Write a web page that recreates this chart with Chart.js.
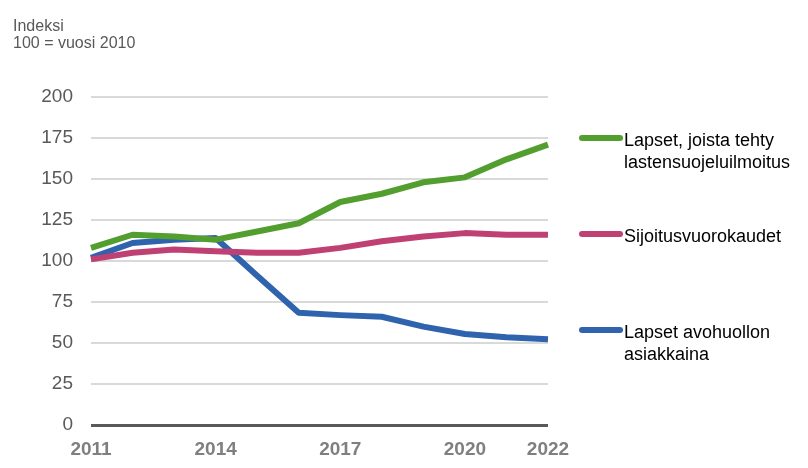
<!DOCTYPE html>
<html>
<head>
<meta charset="utf-8">
<script src="https://cdn.jsdelivr.net/npm/chart.js@4/dist/chart.umd.min.js"></script>
<style>
  html, body { margin: 0; padding: 0; background: #ffffff; }
  #wrap { position: relative; width: 808px; height: 468px; }
</style>
</head>
<body>
<div id="wrap"><canvas id="c" width="808" height="468"></canvas></div>
<script>
const years = ["2011","2012","2013","2014","2015","2016","2017","2018","2019","2020","2021","2022"];
const shownYears = ["2011","2014","2017","2020","2022"];
const yTicks = [0, 25, 50, 75, 100, 125, 150, 175, 200];
const titleLines = ["Indeksi", "100 = vuosi 2010"];

const seriesNames = [
  ["Lapset, joista tehty", "lastensuojeluilmoitus"],
  ["Sijoitusvuorokaudet"],
  ["Lapset avohuollon", "asiakkaina"]
];
const ilmoitus = [108, 116, 115, 113, 118, 123, 136, 141, 148, 151, 162, 171];
const sijoitus = [101, 105, 107, 106, 105, 105, 108, 112, 115, 117, 116, 116];
const avohuolto = [102, 111, 113, 114, 91, 68.5, 67, 66, 60, 55.5, 53.5, 52.3];
const seriesColors = ["#529e2e", "#bf4073", "#2f63ae"];
const legendY = [138, 234, 330];

const FONT = '"Liberation Sans", Arial, sans-serif';

const overlay = {
  id: 'overlay',
  afterDraw(chart) {
    const ctx = chart.ctx;
    ctx.save();
    ctx.fillStyle = '#595959';
    ctx.font = '16px ' + FONT;
    ctx.textBaseline = 'alphabetic';
    ctx.textAlign = 'left';
    titleLines.forEach((t, i) => ctx.fillText(t, 13, 31 + i * 17));
    // legend
    seriesNames.forEach((lines, i) => {
      ctx.strokeStyle = seriesColors[i];
      ctx.lineWidth = 6;
      ctx.lineCap = 'round';
      ctx.beginPath();
      ctx.moveTo(582, legendY[i]);
      ctx.lineTo(620, legendY[i]);
      ctx.stroke();
      ctx.fillStyle = '#000000';
      ctx.font = '18px ' + FONT;
      ctx.textBaseline = 'alphabetic';
      lines.forEach((t, j) => ctx.fillText(t, 624, legendY[i] + 8 + j * 22));
    });
    ctx.restore();
  }
};

new Chart(document.getElementById('c'), {
  type: 'line',
  data: {
    labels: years,
    datasets: [
      { label: seriesNames[0].join(' '), data: ilmoitus, borderColor: seriesColors[0] },
      { label: seriesNames[1].join(' '), data: sijoitus, borderColor: seriesColors[1] },
      { label: seriesNames[2].join(' '), data: avohuolto, borderColor: seriesColors[2] }
    ]
  },
  options: {
    responsive: false,
    animation: false,
    layout: { padding: { left: 0, right: 260, top: 97, bottom: 0 } },
    elements: {
      line: { borderWidth: 6, tension: 0, borderJoinStyle: 'round', borderCapStyle: 'butt' },
      point: { radius: 0, hoverRadius: 0 }
    },
    plugins: { legend: { display: false }, tooltip: { enabled: false } },
    scales: {
      x: {
        type: 'category',
        offset: false,
        grid: { display: false, drawTicks: false },
        border: { display: false },
        afterFit(s) { s.height = 43; },
        ticks: {
          autoSkip: false,
          maxRotation: 0,
          padding: 13,
          color: '#7f7f7f',
          font: { family: FONT, size: 19, weight: 'bold' },
          callback(v, i) { const l = years[i]; return shownYears.includes(l) ? l : null; }
        }
      },
      y: {
        min: 0,
        max: 200,
        afterFit(s) { s.width = 91; },
        afterBuildTicks(s) { s.ticks = yTicks.map(v => ({ value: v })); },
        border: { display: false },
        grid: {
          drawTicks: false,
          color: c => c.tick && c.tick.value === 0 ? '#595959' : '#d9d9d9',
          lineWidth: c => c.tick && c.tick.value === 0 ? 3 : 2
        },
        ticks: {
          padding: 18,
          color: '#595959',
          font: { family: FONT, size: 19 }
        }
      }
    }
  },
  plugins: [overlay]
});
</script>
</body>
</html>
